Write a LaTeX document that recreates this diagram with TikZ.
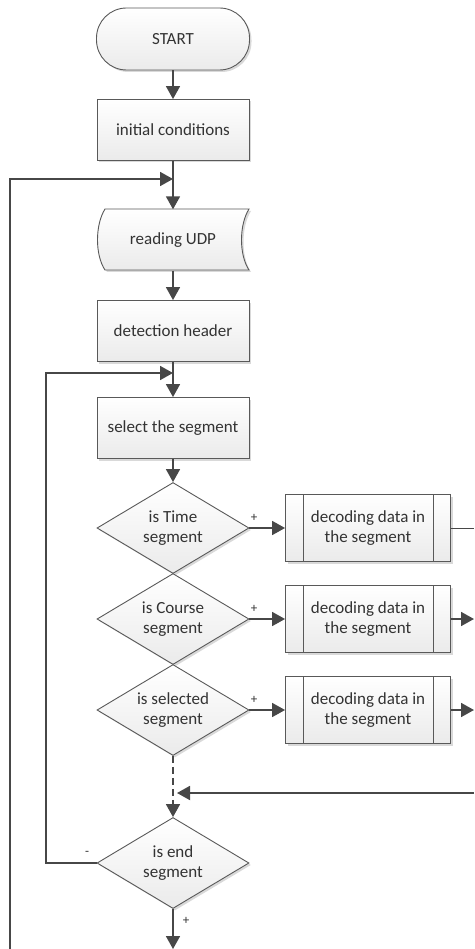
\documentclass[tikz,border=0pt]{standalone}
\usepackage{fontspec}
\setmainfont{Carlito}
\usetikzlibrary{arrows.meta,shapes.geometric,shadows}

\tikzset{
  base/.style={draw=black!65, line width=0.9pt, top color=white, bottom color=black!8,
    drop shadow={shadow xshift=2pt, shadow yshift=-2pt, opacity=0.15, fill=black},
    text=black!80, align=center, font=\fontsize{17}{20}\selectfont, inner sep=0pt},
  term/.style={base, rectangle, rounded corners=30pt, minimum width=153pt, minimum height=62pt},
  proc/.style={base, rectangle, minimum width=152pt, minimum height=61pt},
  cond/.style={base, diamond, aspect=1.69, minimum width=152pt, minimum height=91pt},
  subproc/.style={base, rectangle, minimum width=165pt, minimum height=67pt},
  flow/.style={draw=black!72, line width=1.8pt, -{Triangle[length=13pt,width=14pt]}},
  link/.style={draw=black!72, line width=1.8pt},
  sign/.style={text=black!80, font=\fontsize{13}{13}\selectfont, inner sep=0pt}
}

\begin{document}
\begin{tikzpicture}[x=1pt,y=-1pt]
\useasboundingbox (0,0) rectangle (474,949);

% stored data shape for the input
\path[base] (105,209) .. controls (95,225) and (95,255) .. (105,270) -- (249,270)
  .. controls (239,255) and (239,225) .. (249,209) -- cycle;

\node[term] (start) at (173,39) {START};
\node[proc] (init) at (173,130) {initial conditions};
\node[text=black!80, font=\fontsize{17}{20}\selectfont, inner sep=0pt,
  minimum width=152pt, minimum height=61pt] (udp) at (173,240) {reading UDP};
\node[proc] (header) at (173,331) {detection header};
\node[proc] (select) at (173,428) {select the segment};

\node[cond] (dtime) at (173,528) {is Time\\segment};
\node[cond] (dcourse) at (173,619) {is Course\\segment};
\node[cond] (dsel) at (173,710) {is selected\\segment};
\node[cond] (dend) at (173,863) {is end\\segment};

\node[subproc] (dec1) at (368,528) {decoding data in\\the segment};
\node[subproc] (dec2) at (368,619) {decoding data in\\the segment};
\node[subproc] (dec3) at (368,710) {decoding data in\\the segment};
\foreach \b in {dec1,dec2,dec3} {
  \draw[black!65, line width=0.9pt] ([xshift=18pt]\b.north west) -- ([xshift=18pt]\b.south west);
  \draw[black!65, line width=0.9pt] ([xshift=-18pt]\b.north east) -- ([xshift=-18pt]\b.south east);
}

\coordinate (j1) at (173,179);
\coordinate (j2) at (173,373);
\coordinate (j3) at (177,793);
\coordinate (out1) at (474,528);
\coordinate (out2) at (474,619);
\coordinate (out3) at (474,710);
\coordinate (back) at (474,793);
\coordinate (exit) at (173,949);
\coordinate (loop) at (10,949);

\draw[flow] (start) -- (init);
\draw[flow] (init) -- (udp);
\draw[flow] (udp) -- (header);
\draw[flow] (header) -- (select);
\draw[flow] (select) -- (dtime);

\draw[flow] (loop) |- (j1);
\draw[flow] (dend.west) -| (46,600) |- (j2);

\draw[flow] (dtime.east) -- (dec1.west);
\draw[flow] (dcourse.east) -- (dec2.west);
\draw[flow] (dsel.east) -- (dec3.west);
\draw[draw=black!72, line width=1pt] (dec1.east) -- (out1);
\draw[flow] (dec2.east) -- (out2);
\draw[flow] (dec3.east) -- (out3);

\draw[flow, dash pattern=on 7pt off 4pt] (dsel.south) -- (dend.north);
\draw[flow] (back) -- (j3);
\draw[flow] (dend.south) -- (exit);

\node[sign] (p1) at (254,518) {+};
\node[sign] (p2) at (254,609) {+};
\node[sign] (p3) at (254,700) {+};
\node[sign] (m4) at (87,853) {-};
\node[sign] (p4) at (186,921) {+};
\end{tikzpicture}
\end{document}
